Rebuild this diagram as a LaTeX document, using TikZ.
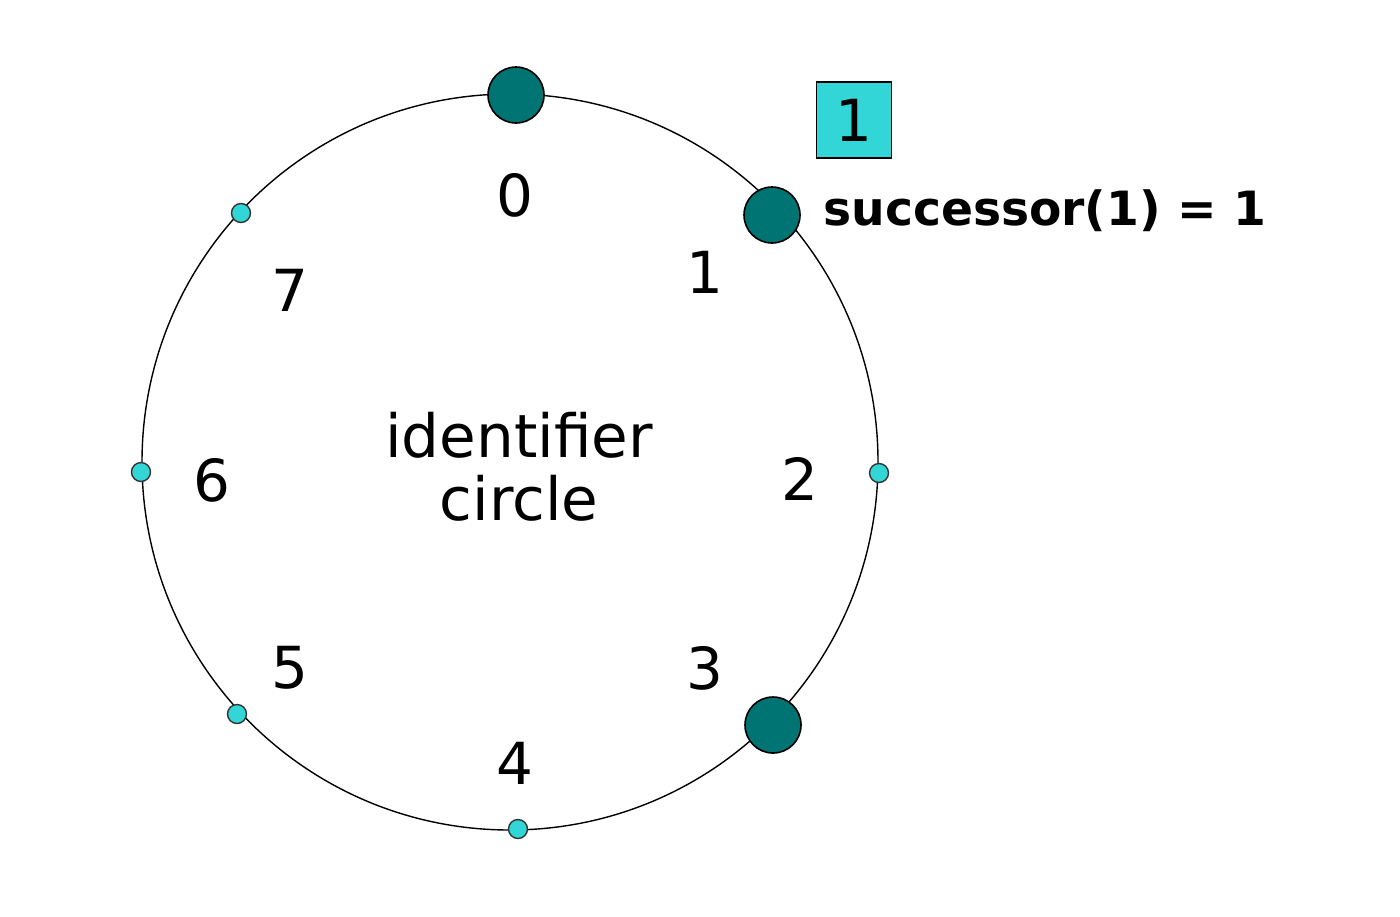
\documentclass[tikz,border=0pt]{standalone}
\usepackage{fontspec}
\setmainfont{DejaVu Sans}
\usepackage{xcolor}
\definecolor{peerteal}{HTML}{007373}
\definecolor{idcyan}{HTML}{33D6D6}

\begin{document}
\begin{tikzpicture}[x=.5pt, y=-.5pt,
  peer/.style={circle, draw=black, fill=peerteal, minimum size=28pt, inner sep=0, line width=.8},
  slot/.style={circle, draw=black!80, fill=idcyan, minimum size=9.5pt, inner sep=0, line width=.7},
  idlabel/.style={font=\fontsize{29}{31}\selectfont, inner sep=0}]
\useasboundingbox (0,0) rectangle (1400,916);
\draw[line width=.7] (510,462) circle (184pt);
% identifiers on the circle
\foreach \i/\x/\y in {2/879/473, 4/518/829, 5/237/714, 6/141/472, 7/241/213} {
 \node[slot] (id\i) at (\x,\y) {};
}
\foreach \i/\x/\y in {0/516/95, 1/772/215, 3/773/725} {
 \node[peer] (id\i) at (\x,\y) {};
}
\foreach \i/\x/\y in {0/515/195, 1/705/272, 2/800/479, 3/705/668, 4/515/763, 5/290/668, 6/212/480, 7/290/290} {
 \node[idlabel] (lab\i) at (\x,\y) {\i};
}
\node[idlabel, align=center, font=\fontsize{29.8}{31.5}\selectfont] (ring) at (519,467) {identifier\\circle};
\node[draw=black, fill=idcyan, line width=.8, minimum width=37.5pt, minimum height=38pt, inner sep=0,
  font=\fontsize{29}{31}\selectfont] (key) at (854,120) {1};
\node[anchor=west, font=\fontsize{23.6}{25}\selectfont\bfseries, inner sep=0] (succ) at (823,211) {successor(1) = 1};
\end{tikzpicture}
\end{document}
